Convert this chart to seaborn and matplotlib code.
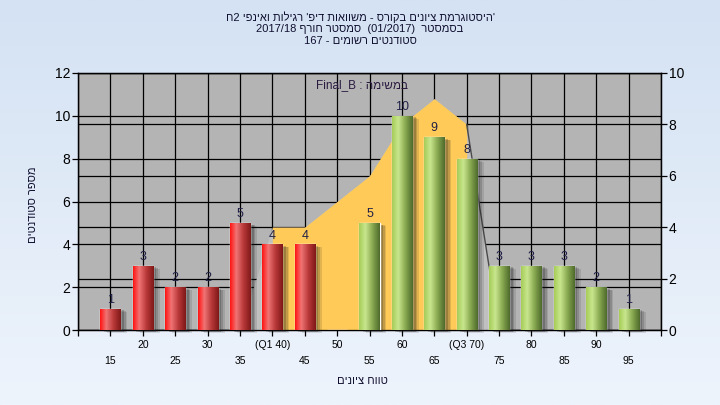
import re
import numpy as np
import pandas as pd
import matplotlib
matplotlib.use("Agg")
import matplotlib.pyplot as plt
import seaborn as sns
from matplotlib.colors import LinearSegmentedColormap
from matplotlib.patches import Rectangle
from matplotlib.transforms import ScaledTranslation

# --- data ---
grades = [15, 20, 25, 30, 35, 40, 45, 50, 55, 60, 65, 70, 75, 80, 85, 90, 95]
counts = [1, 3, 2, 2, 5, 4, 4, 0, 5, 10, 9, 8, 3, 3, 3, 2, 1]
curve_x = [35, 40, 45, 50, 55, 60, 65, 70, 75]
curve_y = [0, 4, 4, 5, 6, 8, 9, 8, 0]
q1, q3 = 40, 70
pass_grade = 55

title_lines = [
    "'היסטוגרמת ציונים בקורס - משוואות דיפ' רגילות ואינפי 2ח",
    "בסמסטר  (01/2017)  סמסטר חורף 2017/18",
    "סטודנטים רשומים - 167",
]
task_label = "במשימה : Final_B"
x_title = "טווח ציונים"
y_title = "מספר סטודנטים"
row1_ticks = [10, 20, 30, 40, 50, 60, 70, 80, 90, 100]
row1_labels = ["", "20", "30", "(Q1 40)", "50", "60", "(Q3 70)", "80", "90", ""]
row2_ticks = [15, 25, 35, 45, 55, 65, 75, 85, 95]
row2_labels = ["15", "25", "35", "45", "55", "65", "75", "85", "95"]


def rtl(s):
    """matplotlib has no bidi: put Hebrew in visual order, keep latin/digit runs."""
    r = s[::-1]
    return re.sub(r"[A-Za-z0-9/_.()]+", lambda m: m.group(0)[::-1], r)


sns.set_theme(style="white")
plt.rcParams['font.family'] = ['Liberation Sans', 'DejaVu Sans']

fig = plt.figure(figsize=(7.2, 4.05), dpi=100)

# light blue gradient background
bg = fig.add_axes([0, 0, 1, 1], zorder=-10)
bg.imshow(np.linspace(0, 1, 256).reshape(-1, 1), aspect='auto', extent=[0, 1, 0, 1],
          cmap=LinearSegmentedColormap.from_list('bg', ['#D4E2F3', '#EEF4FC']))
bg.axis('off')

pos = [78 / 720, 1 - 330 / 405, (661 - 78) / 720, (330 - 73) / 405]
ax = fig.add_axes(pos)
ax2 = ax.twinx()
axb = fig.add_axes(pos, sharex=ax, sharey=ax)

ax.set_facecolor('#B4B4B4')
ax.set_xlim(10, 100)
ax.set_ylim(0, 12)
ax2.set_ylim(0, 10)
ax.set_yticks(range(0, 13, 2))
ax2.set_yticks(range(0, 11, 2))
ax.set_xticks(row1_ticks)
ax.set_xticklabels(row1_labels)
ax.set_xticks(row2_ticks, minor=True)
ax.set_xticklabels(row2_labels, minor=True)

ax.grid(True, axis='x', which='both', color='black', lw=0.9)
ax.grid(True, axis='y', which='major', color='black', lw=0.9)
ax2.set_axisbelow(True)
ax2.grid(True, axis='y', color='black', lw=0.9)
ax2.grid(False, axis='x')

for a in (ax, ax2):
    for sp in a.spines.values():
        sp.set_color('black')
        sp.set_linewidth(0.9)

ax.tick_params(axis='y', direction='out', length=4, width=0.9, pad=1.5, labelsize=10,
               colors='black', left=True)
ax2.tick_params(axis='y', direction='out', length=4, width=0.9, pad=1.5, labelsize=10,
                colors='black', right=True)
ax.tick_params(axis='x', which='major', direction='out', length=4, width=0.9, pad=3,
               labelsize=7.5, colors='black', bottom=True)
ax.tick_params(axis='x', which='minor', direction='out', length=4, width=0.9, pad=15,
               labelsize=7.5, colors='black', bottom=True)

# normal-ish curve on the right axis, IQR part in yellow
inside = [q1 <= x <= q3 for x in curve_x]
ax2.fill_between(curve_x, curve_y, color='#C0C0C0', lw=0, zorder=1)
ax2.fill_between(curve_x, curve_y, where=inside, color='#FFCA58', lw=0, zorder=1.1)
ax2.plot(curve_x[-2:], curve_y[-2:], color='#4A4A4A', lw=1, zorder=1.2)

# bars
df = pd.DataFrame({'grade': grades, 'count': counts})
df['status'] = np.where(df['grade'] < pass_grade, 'fail', 'pass')
sns.barplot(data=df, x='grade', y='count', hue='status', native_scale=True,
            palette={'fail': '#D93030', 'pass': '#9CC060'}, width=0.62, dodge=False,
            saturation=1, legend=False, ax=axb, zorder=3)
axb.patch.set_visible(False)

red_cmap = LinearSegmentedColormap.from_list(
    'red', [(0, '#FF1414'), (0.3, '#F07474'), (0.65, '#B83838'), (1, '#801818')])
green_cmap = LinearSegmentedColormap.from_list(
    'green', [(0, '#A6CC58'), (0.3, '#C8E68E'), (0.65, '#88A850'), (1, '#4E6A2C')])
grad = np.linspace(0, 1, 64).reshape(1, -1)

for bar in list(axb.patches):
    h = bar.get_height()
    if h <= 0:
        continue
    x0, w = bar.get_x(), bar.get_width()
    # soft drop shadow, offset in points to the right / down
    for off, alpha in ((5.0, 0.12), (3.8, 0.16), (2.6, 0.22)):
        shift = ScaledTranslation(off / 72, -off * 0.45 / 72, fig.dpi_scale_trans)
        sh = Rectangle((x0, 0), w, h, facecolor='#181818', edgecolor='none',
                       alpha=alpha, zorder=2.5, transform=axb.transData + shift,
                       clip_on=False)
        axb.add_artist(sh)
    cmap = red_cmap if x0 + w / 2 < pass_grade else green_cmap
    im = axb.imshow(grad, cmap=cmap, extent=(x0, x0 + w, 0, h), aspect='auto',
                    zorder=3.5, interpolation='bilinear')
    im.set_clip_path(bar)

for cont in axb.containers:
    axb.bar_label(cont, labels=[f'{v:g}' if v > 0 else '' for v in cont.datavalues],
                  padding=2, fontsize=9, color='#202048')

axb.set_xlim(10, 100)
axb.set_ylim(0, 12)
axb.axis('off')

axb.text(0.487, 0.953, rtl(task_label), transform=axb.transAxes, ha='center',
         va='center', fontsize=8.5, color='#2A1A40')

for i, line in enumerate(title_lines):
    fig.text(0.5, 1 - (17 + 12 * i) / 405, rtl(line), ha='center', va='center',
             fontsize=8, color='#101030')

fig.text(362 / 720, 1 - 381 / 405, rtl(x_title), ha='center', va='center',
         fontsize=8, color='#101030')
fig.text(33 / 720, 1 - 205 / 405, rtl(y_title), ha='center', va='center',
         rotation=90, fontsize=8, color='#101030')

fig.savefig('out.png', dpi=100)
